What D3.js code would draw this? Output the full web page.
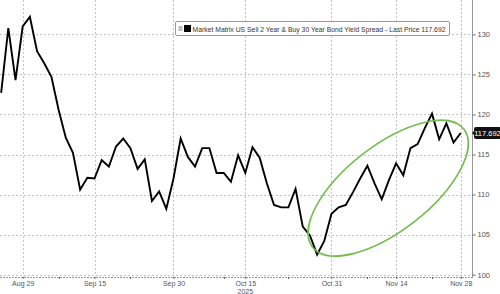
<!DOCTYPE html>
<html>
<head>
<meta charset="utf-8">
<script src="https://cdn.jsdelivr.net/npm/d3@7"></script>
<style>
  html, body { margin: 0; padding: 0; background: #fff; }
  #chart { width: 500px; height: 294px; }
  text { font-family: "Liberation Sans", Arial, sans-serif; }
</style>
</head>
<body>
<div id="chart"></div>
<script>
// Trading days (bond market holidays skipped: Sep 1, Oct 13, Nov 11, Nov 27)
const tradingDays = [
  "2025-08-26", "2025-08-27", "2025-08-28", "2025-08-29",
  "2025-09-02", "2025-09-03", "2025-09-04", "2025-09-05",
  "2025-09-08", "2025-09-09", "2025-09-10", "2025-09-11", "2025-09-12",
  "2025-09-15", "2025-09-16", "2025-09-17", "2025-09-18", "2025-09-19",
  "2025-09-22", "2025-09-23", "2025-09-24", "2025-09-25", "2025-09-26",
  "2025-09-29", "2025-09-30", "2025-10-01", "2025-10-02", "2025-10-03",
  "2025-10-06", "2025-10-07", "2025-10-08", "2025-10-09", "2025-10-10",
  "2025-10-14", "2025-10-15", "2025-10-16", "2025-10-17",
  "2025-10-20", "2025-10-21", "2025-10-22", "2025-10-23", "2025-10-24",
  "2025-10-27", "2025-10-28", "2025-10-29", "2025-10-30", "2025-10-31",
  "2025-11-03", "2025-11-04", "2025-11-05", "2025-11-06", "2025-11-07",
  "2025-11-10", "2025-11-12", "2025-11-13", "2025-11-14",
  "2025-11-17", "2025-11-18", "2025-11-19", "2025-11-20", "2025-11-21",
  "2025-11-24", "2025-11-25", "2025-11-26", "2025-11-28",
];

// 2s30s spread, bp
const spreadValues = [
  122.7, 130.8, 124.3, 131.0,
  132.2, 127.9, 126.4, 124.7,
  120.6, 117.1, 115.2, 110.6, 112.1,
  112.0, 114.3, 113.5, 116.0, 117.0,
  115.8, 113.2, 114.4, 109.2, 110.4,
  108.2, 112.0, 117.0, 114.7, 113.5,
  115.8, 115.8, 112.7, 112.7, 111.6,
  114.9, 112.7, 115.9, 114.6,
  111.4, 108.7, 108.4, 108.4, 110.7,
  106.0, 104.9, 102.5, 104.2, 107.6,
  108.4, 108.7, 110.3, 112.0, 113.6,
  111.4, 109.4, 111.8, 113.9,
  112.4, 115.8, 116.3, 118.3, 120.1,
  116.9, 118.9, 116.5, 117.692,
];

const majorTickDates = ["2025-08-29", "2025-09-15", "2025-09-30", "2025-10-15", "2025-10-31", "2025-11-14", "2025-11-28"];
const majorTickLabels = ["Aug 29", "Sep 15", "Sep 30", "Oct 15", "Oct 31", "Nov 14", "Nov 28"];
const minorTickDates = ["2025-09-08", "2025-09-22", "2025-10-09", "2025-10-23", "2025-11-07", "2025-11-21"];
const yTicks = [100, 105, 110, 115, 120, 125, 130];
const yearLabel = "2025";
const legendText = "Market Matrix US Sell 2 Year & Buy 30 Year Bond Yield Spread - Last Price 117.692";
const lastPriceLabel = "117.692";

// Highlight ellipse around the late rally (centre in data terms)
const highlightCentre = { index: 53.9, value: 110.8 };

const width = 500;
const height = 294;
const plotRight = 472;
const plotBottom = 277;

const svg = d3
  .select("#chart")
  .append("svg")
  .attr("width", width)
  .attr("height", height);

const x = d3.scaleLinear().domain([-0.16, 65.57]).range([0, plotRight]);
const y = d3.scaleLinear().domain([99.7, 134.3]).range([plotBottom, 0]);

const dayIndex = (d) => tradingDays.indexOf(d);

// Grid lines, dotted
const grid = svg.append("g").attr("stroke", "#c4c4c4").attr("stroke-width", 1).attr("stroke-dasharray", "2,2");

grid
  .selectAll("line.hgrid")
  .data(yTicks)
  .enter()
  .append("line")
  .attr("class", "hgrid")
  .attr("x1", 0)
  .attr("x2", plotRight)
  .attr("y1", (d) => Math.round(y(d)) + 0.5)
  .attr("y2", (d) => Math.round(y(d)) + 0.5);

grid
  .selectAll("line.vgrid")
  .data(majorTickDates)
  .enter()
  .append("line")
  .attr("class", "vgrid")
  .attr("x1", (d) => Math.round(x(dayIndex(d))) + 0.5)
  .attr("x2", (d) => Math.round(x(dayIndex(d))) + 0.5)
  .attr("y1", 0)
  .attr("y2", plotBottom);

// Bottom axis line (dotted) and right axis line
svg
  .append("line")
  .attr("x1", 0)
  .attr("x2", plotRight)
  .attr("y1", plotBottom + 0.5)
  .attr("y2", plotBottom + 0.5)
  .attr("stroke", "#999")
  .attr("stroke-dasharray", "2,1");

svg
  .append("line")
  .attr("x1", plotRight + 0.5)
  .attr("x2", plotRight + 0.5)
  .attr("y1", 0)
  .attr("y2", plotBottom + 1)
  .attr("stroke", "#999");

// Right y axis
const yAxis = d3.axisRight(y).tickValues(yTicks).tickSize(3).tickPadding(2);
const yAxisG = svg
  .append("g")
  .attr("transform", `translate(${plotRight + 0.5},0)`)
  .call(yAxis);
yAxisG.select(".domain").remove();
yAxisG.selectAll("line").attr("stroke", "#666");
yAxisG
  .selectAll("text")
  .attr("fill", "#555")
  .style("font-size", "7.5px")
  .style("font-family", "'Liberation Sans', Arial, sans-serif");

// Bottom x axis
const xAxis = d3
  .axisBottom(x)
  .tickValues(majorTickDates.map(dayIndex))
  .tickFormat((d, i) => majorTickLabels[i])
  .tickSize(2)
  .tickPadding(2);
const xAxisG = svg
  .append("g")
  .attr("transform", `translate(0,${plotBottom})`)
  .call(xAxis);
xAxisG.select(".domain").remove();
xAxisG.selectAll("line").attr("stroke", "#666");
xAxisG
  .selectAll("text")
  .attr("fill", "#555")
  .style("font-size", "7px")
  .style("font-family", "'Liberation Sans', Arial, sans-serif");

svg
  .selectAll("line.minor-tick")
  .data(minorTickDates)
  .enter()
  .append("line")
  .attr("class", "minor-tick")
  .attr("x1", (d) => Math.round(x(dayIndex(d))) + 0.5)
  .attr("x2", (d) => Math.round(x(dayIndex(d))) + 0.5)
  .attr("y1", plotBottom)
  .attr("y2", plotBottom + 2)
  .attr("stroke", "#666");

svg
  .append("text")
  .attr("x", x(dayIndex("2025-10-15")))
  .attr("y", 293.5)
  .attr("text-anchor", "middle")
  .attr("fill", "#555")
  .attr("font-size", "7px")
  .text(yearLabel);

// Spread line
const line = d3
  .line()
  .x((d, i) => x(i))
  .y((d) => y(d));

svg
  .append("path")
  .datum(spreadValues)
  .attr("fill", "none")
  .attr("stroke", "#000")
  .attr("stroke-width", 1.9)
  .attr("stroke-linejoin", "miter")
  .attr("d", line);

// Green highlight ellipse
svg
  .append("ellipse")
  .attr("cx", 0)
  .attr("cy", 0)
  .attr("rx", 96)
  .attr("ry", 42.5)
  .attr("transform", `translate(${x(highlightCentre.index)},${y(highlightCentre.value)}) rotate(-38)`)
  .attr("fill", "none")
  .attr("stroke", "#72bd4e")
  .attr("stroke-width", 1.6);

// Legend box
const legend = svg.append("g").attr("transform", "translate(175.5,21.5)");
legend
  .append("rect")
  .attr("width", 274)
  .attr("height", 14)
  .attr("rx", 1.5)
  .attr("fill", "#fff")
  .attr("stroke", "#999");
legend
  .append("rect")
  .attr("x", 3)
  .attr("y", 4.5)
  .attr("width", 4)
  .attr("height", 5)
  .attr("fill", "#bbb");
legend
  .append("rect")
  .attr("x", 8.5)
  .attr("y", 3.5)
  .attr("width", 7)
  .attr("height", 7)
  .attr("fill", "#000");
legend
  .append("text")
  .attr("x", 17)
  .attr("y", 10)
  .attr("fill", "#333")
  .attr("font-size", "7px")
  .attr("textLength", 253)
  .attr("lengthAdjust", "spacingAndGlyphs")
  .text(legendText);

// Last price tag on the right axis
const lastY = y(spreadValues[spreadValues.length - 1]);
svg
  .append("rect")
  .attr("x", plotRight + 2)
  .attr("y", lastY - 6)
  .attr("width", 27)
  .attr("height", 12)
  .attr("rx", 2)
  .attr("fill", "#111");
svg
  .append("path")
  .attr("d", `M${plotRight},${lastY} L${plotRight + 3},${lastY - 3} L${plotRight + 3},${lastY + 3} Z`)
  .attr("fill", "#111");
svg
  .append("text")
  .attr("x", plotRight + 15.5)
  .attr("y", lastY + 2.7)
  .attr("text-anchor", "middle")
  .attr("fill", "#fff")
  .attr("font-size", "7.5px")
  .text(lastPriceLabel);
</script>
</body>
</html>
